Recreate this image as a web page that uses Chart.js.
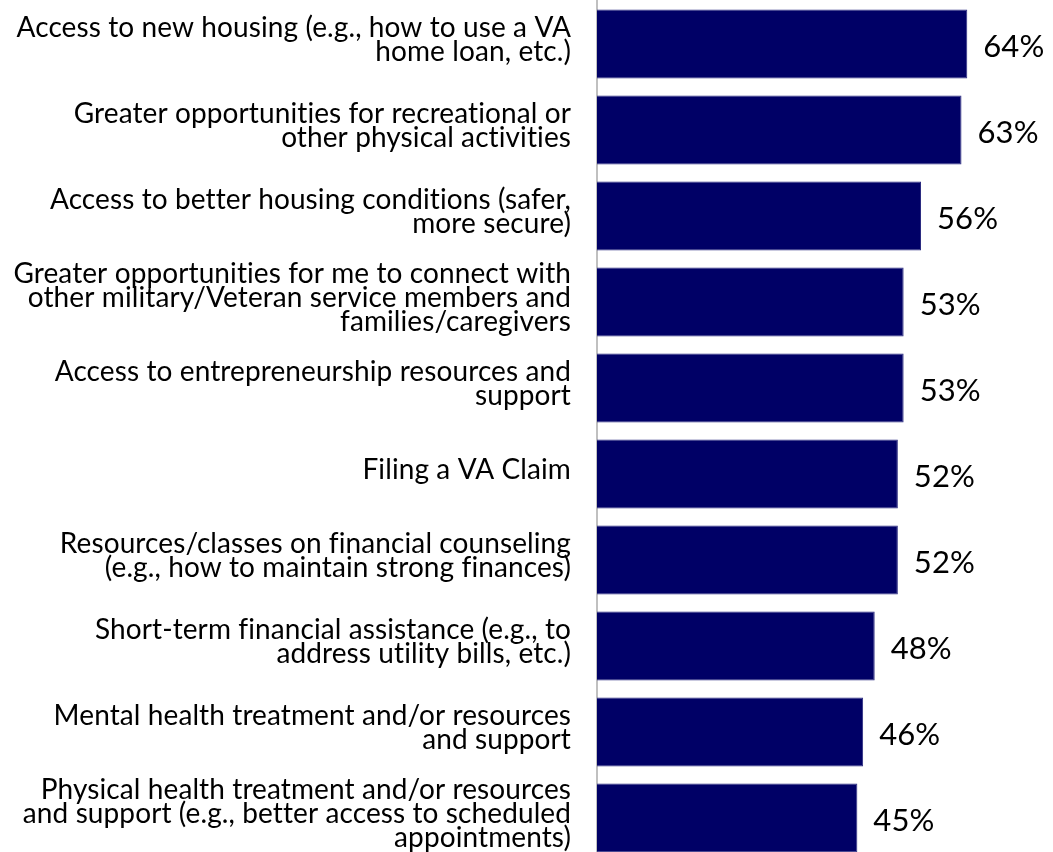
<!DOCTYPE html>
<html>
<head>
<meta charset="utf-8">
<script src="https://cdn.jsdelivr.net/npm/chart.js@4.4.1/dist/chart.umd.min.js"></script>
<style>
  html, body { margin: 0; padding: 0; background: #fff; overflow: hidden; }
  #wrap { position: relative; width: 1053px; height: 861px; }
</style>
</head>
<body>
<div id="wrap"><canvas id="chart"></canvas></div>
<script>
  const categories = [
    ["Access to new housing (e.g., how to use a VA", "home loan, etc.)"],
    ["Greater opportunities for recreational or", "other physical activities"],
    ["Access to better housing conditions (safer,", "more secure)"],
    ["Greater opportunities for me to connect with", "other military/Veteran service members and", "families/caregivers"],
    ["Access to entrepreneurship resources and", "support"],
    ["Filing a VA Claim"],
    ["Resources/classes on financial counseling", "(e.g., how to maintain strong finances)"],
    ["Short-term financial assistance (e.g., to", "address utility bills, etc.)"],
    ["Mental health treatment and/or resources", "and support"],
    ["Physical health treatment and/or resources", "and support (e.g., better access to scheduled", "appointments)"]
  ];
  const percents = [64, 63, 56, 53, 53, 52, 52, 48, 46, 45];

  const navy = "#000066";
  const fontFamily = "Lato, 'Open Sans', sans-serif";

  // tiny letter spacing keeps "fi" from turning into a ligature
  const textSpacing = {
    id: "textSpacing",
    beforeDraw(chart) {
      chart.ctx.letterSpacing = "0.1px";
    }
  };

  // value labels to the right of each bar
  const barValueLabels = {
    id: "barValueLabels",
    afterDatasetsDraw(chart) {
      const ctx = chart.ctx;
      const meta = chart.getDatasetMeta(0);
      ctx.save();
      ctx.font = "31px " + fontFamily;
      ctx.fillStyle = "#000";
      ctx.textAlign = "left";
      ctx.textBaseline = "middle";
      meta.data.forEach((bar, i) => {
        ctx.fillText(percents[i] + "%", bar.x + 16, bar.y + 3);
      });
      ctx.restore();
    }
  };

  new Chart(document.getElementById("chart"), {
    type: "bar",
    data: {
      labels: categories,
      datasets: [{
        data: percents,
        backgroundColor: navy,
        borderColor: "#2b2b80",
        borderWidth: 1,
        borderSkipped: "left",
        categoryPercentage: 1,
        barPercentage: 0.8
      }]
    },
    options: {
      indexAxis: "y",
      responsive: true,
      maintainAspectRatio: false,
      animation: false,
      layout: { padding: { top: 1, right: 51, bottom: 0, left: 0 } },
      plugins: {
        legend: { display: false },
        tooltip: { enabled: false }
      },
      scales: {
        x: {
          display: false,
          min: 0,
          max: 70
        },
        y: {
          afterFit(scale) {
            // fixed label column, and no extra room above/below the bars
            scale.width = 597;
            scale.paddingTop = 0;
            scale.paddingBottom = 0;
          },
          grid: { display: false, drawTicks: false },
          border: { display: true, color: "#c0c0c0", width: 2 },
          ticks: {
            color: "#000",
            padding: 26,
            labelOffset: -4,
            font: { family: fontFamily, size: 28, lineHeight: 0.86 }
          }
        }
      }
    },
    plugins: [textSpacing, barValueLabels]
  });
</script>
</body>
</html>
